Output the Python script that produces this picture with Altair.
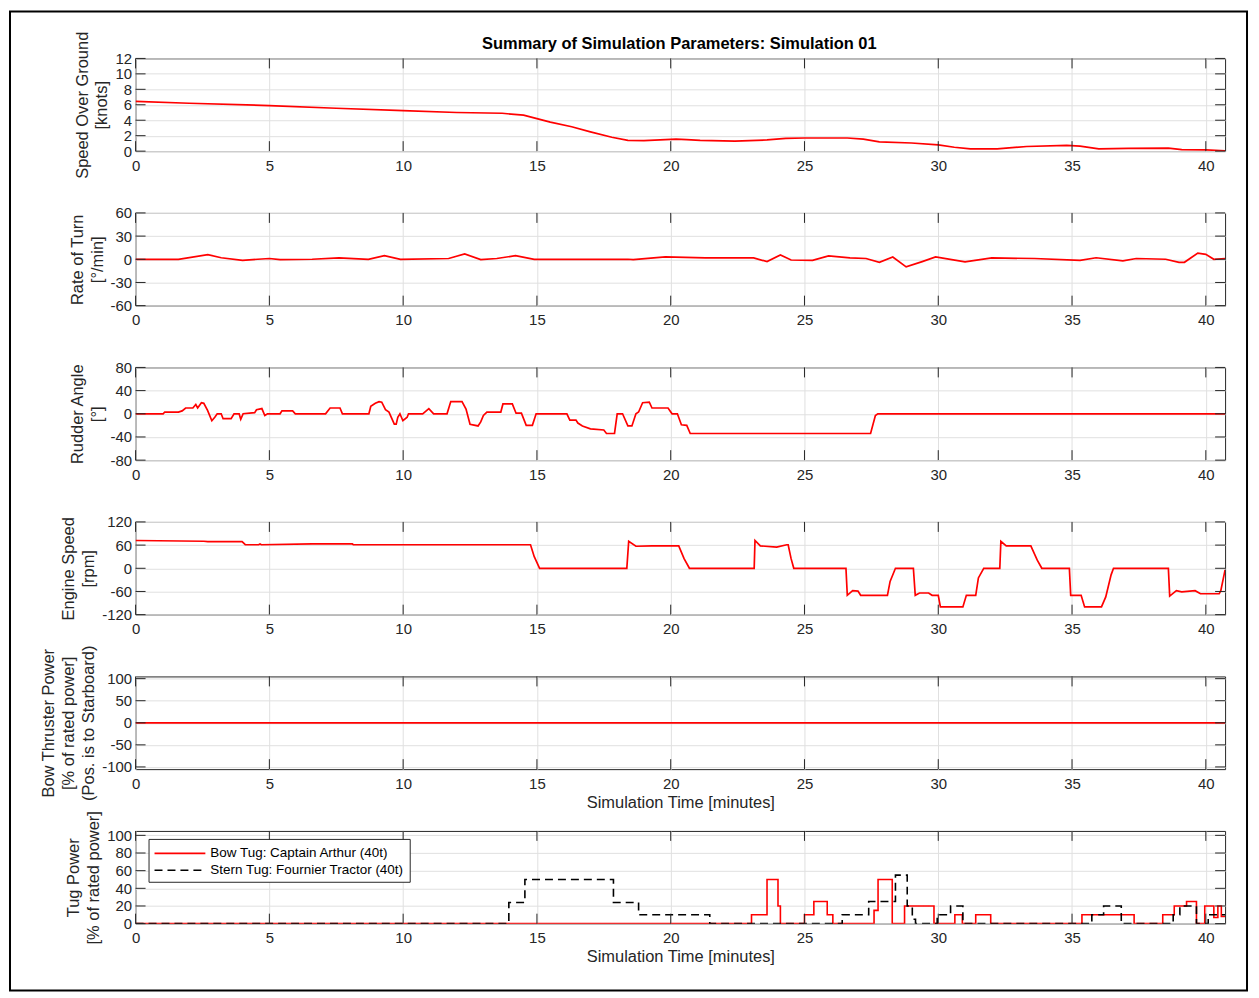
import altair as alt
import pandas as pd

# ---------------- data ----------------
X_MAX = 40.72
XTICKS = [0, 5, 10, 15, 20, 25, 30, 35, 40]

sog_t = [0, 2, 5, 7.5, 10, 12, 13.7, 14.5, 15, 15.5, 16.3, 17, 17.8, 18.4, 19.0, 19.6, 20.2, 20.6,
         21.1, 22.4, 23.6, 24.3, 25, 26.6, 27.2, 27.8, 29.0, 30, 30.6, 31.2, 32.2, 33.3, 34.8, 35.3,
         36.0, 37.1, 38.6, 39.1, 40.0, 40.72]
sog_v = [6.45, 6.2, 5.9, 5.55, 5.25, 5.0, 4.9, 4.65, 4.2, 3.75, 3.15, 2.5, 1.8, 1.4, 1.35, 1.45, 1.55, 1.5,
         1.4, 1.3, 1.45, 1.65, 1.7, 1.7, 1.55, 1.2, 1.05, 0.8, 0.5, 0.3, 0.3, 0.6, 0.75, 0.65,
         0.3, 0.35, 0.4, 0.2, 0.15, 0.05]

rot_t = [0, 1.6, 2.7, 3.2, 4.0, 5.0, 5.4, 6.6, 7.6, 8.7, 9.3, 9.9, 11.7, 12.3, 12.9, 13.5, 14.2, 14.9,
         18.4, 18.6, 19.8, 21.3, 23.1, 23.6, 24.1, 24.5, 25.3, 25.9, 26.7, 27.3, 27.8, 28.3, 28.8,
         29.4, 29.9, 31.0, 32.0, 33.6, 35.3, 35.9, 36.9, 37.4, 38.5, 39.0, 39.2, 39.7, 40.0, 40.3, 40.72]
rot_v = [0, 0, 6, 2, -1.3, 1, -0.5, 0, 1.7, 0, 4.7, 0, 1, 6.9, -0.4, 1, 4.7, 0,
         0, -0.5, 3, 1.7, 1.7, -3, 5.6, -0.9, -1.3, 4.3, 1.7, 1, -3.9, 3, -9.9,
         -3, 3, -3.4, 1.7, 1, -1.3, 2, -2, 1, 0, -3.9, -3.9, 8, 6.4, 0, 1]

rud_t = [0, 1.03, 1.09, 1.6, 1.74, 1.87, 2.14, 2.25, 2.32, 2.46, 2.55, 2.69, 2.85, 2.96, 3.05, 3.2, 3.27,
         3.57, 3.68, 3.87, 3.93, 4.02, 4.45, 4.52, 4.72, 4.83, 4.93, 5.4, 5.47, 5.87, 5.97, 7.1, 7.27,
         7.64, 7.73, 8.72, 8.79, 8.96, 9.1, 9.2, 9.34, 9.47, 9.67, 9.74, 9.8, 9.88, 9.99, 10.15, 10.2,
         10.73, 10.96, 11.14, 11.64, 11.78, 12.2, 12.35, 12.5, 12.8, 12.9, 13.0, 13.13, 13.65, 13.73,
         14.08, 14.22, 14.42, 14.6, 14.83, 14.97, 16.12, 16.23, 16.46, 16.53, 16.7, 17.0, 17.5, 17.6,
         17.9, 18.0, 18.2, 18.4, 18.55, 18.7, 18.8, 18.95, 19.2, 19.3, 19.9, 20.05, 20.25, 20.4, 20.6,
         20.73, 27.47, 27.65, 27.74, 40.72]
rud_v = [0, 0, 3, 3, 5, 10, 10, 16, 10, 19, 18, 6, -12, -6, 0, 0, -8.5,
         -8.5, 0, 0, -9.6, 0, 2, 7, 9, -3, 0, 0, 5, 5, 0, 0, 10,
         10, 0, 0, 13, 18, 21, 20, 7, 3, -18, -18, -6, 0, -12, -6, 0,
         0, 9, 0, 0, 21, 21, 8, -18, -21, -14, -3, 3, 3, 17,
         17, 1, 1, -20, -20, 0, 0, -11, -11, -16, -21, -26, -28, -34,
         -34, 0, 0, -21, -21, 0, 3, 19, 20, 10, 10, 0, 0, -19, -20,
         -34, -34, -3, 0, 0]

eng_t = [0, 2.55, 2.7, 3.98, 4.1, 4.6, 4.65, 4.7, 6.6, 8.1, 8.14, 14.76, 14.9, 15.1, 18.36, 18.43, 18.7,
         19.3, 20.3, 20.5, 20.7, 23.12, 23.15, 23.35, 23.96, 24.34, 24.39, 24.5, 24.6, 26.55, 26.6, 26.8,
         27.0, 27.1, 28.1, 28.2, 28.4, 29.07, 29.14, 29.3, 29.64, 29.77, 30.0, 30.08, 30.92, 31.05, 31.4,
         31.5, 31.7, 32.3, 32.34, 32.54, 33.46, 33.7, 33.87, 34.9, 34.95, 35.34, 35.47, 36.1, 36.26,
         36.46, 36.55, 38.6, 38.65, 38.9, 39.1, 39.6, 39.8, 40.5, 40.56, 40.72]
eng_v = [72, 70, 69, 69, 61, 61, 63, 61, 63, 63, 61, 61, 30, 0, 0, 70, 57,
         58, 58, 25, 0, 0, 72, 58, 55, 61, 61, 25, 0, 0, -70, -58,
         -59, -70, -70, -34, 0, 0, -70, -64, -64, -70, -70, -100, -100, -70, -70,
         -25, 0, 0, 70, 58, 58, 21, 0, 0, -70, -70, -100, -100, -74,
         -17, 0, 0, -72, -58, -61, -58, -66, -66, -58, -4]

bow_thr_t = [0, 40.72]
bow_thr_v = [0, 0]

TUG_NAMES = ["Bow Tug: Captain Arthur (40t)", "Stern Tug: Fournier Tractor (40t)"]
bowtug_t = [0, 23.02, 23.6, 24.01, 24.1, 25.0, 25.35, 25.85, 26.06, 27.6, 27.75, 28.28, 28.74, 29.84,
            30.62, 30.9, 31.4, 31.96, 35.37, 37.32, 38.39, 38.82, 39.28, 39.65, 39.96, 40.3, 40.45,
            40.58, 40.72]
bowtug_v = [0, 10, 50, 20, 0, 10, 25, 10, 0, 15, 50, 0, 20, 0,
            10, 0, 10, 0, 10, 0, 10, 20, 25, 0, 20, 7, 20,
            8, 8]
sterntug_t = [0, 13.95, 14.55, 17.86, 18.8, 21.46, 26.41, 27.4, 28.4, 28.84, 29.03, 29.15, 29.96,
              30.46, 30.92, 35.74, 36.18, 36.84, 38.78, 39.03, 39.65, 40.09, 40.72]
sterntug_v = [0, 24, 50, 24, 10, 0, 10, 25, 55, 20, 5, 0, 10,
              20, 0, 10, 20, 0, 10, 20, 0, 10, 10]

# ---------------- styling ----------------
W, H = 1093, 93
SPACING = 62
TL = 10
FONT = "Liberation Sans"
AX = "#262626"
GRID = "#e0e0e0"
RED = "#ff0000"
LABEL_EXPR = "replace(datum.label, '\u2212', '-')"


def make_axes(yticks, ytitle, xtitle):
    xa = alt.Axis(values=XTICKS, format="d", title=xtitle, titlePadding=3,
                  labelPadding=7, grid=True, labelFlush=False)
    ya = alt.Axis(values=yticks, format="d", title=ytitle, titlePadding=5,
                  labelPadding=4, grid=True, labelFlush=False, labelExpr=LABEL_EXPR)
    return xa, ya


def tick_layers(xs, ys, xa, ya, yticks):
    xdf = pd.DataFrame({"t": XTICKS})
    ydf = pd.DataFrame({"v": yticks})
    xt = alt.Chart(xdf).mark_rule(color=AX, strokeWidth=1).encode(
        x=alt.X("t:Q", scale=xs, axis=xa), y=alt.value(0), y2=alt.value(TL))
    xb = alt.Chart(xdf).mark_rule(color=AX, strokeWidth=1).encode(
        x=alt.X("t:Q", scale=xs, axis=xa), y=alt.value(H - TL), y2=alt.value(H))
    yl = alt.Chart(ydf).mark_rule(color=AX, strokeWidth=1).encode(
        y=alt.Y("v:Q", scale=ys, axis=ya), x=alt.value(0), x2=alt.value(TL))
    yr = alt.Chart(ydf).mark_rule(color=AX, strokeWidth=1).encode(
        y=alt.Y("v:Q", scale=ys, axis=ya), x=alt.value(W - TL), x2=alt.value(W))
    return [xt, xb, yl, yr]


def panel(t, v, ydom, yticks, ytitle, xtitle=None):
    xs = alt.Scale(domain=[0, X_MAX], nice=False, zero=False)
    ys = alt.Scale(domain=ydom, nice=False, zero=False)
    xa, ya = make_axes(yticks, ytitle, xtitle)
    df = pd.DataFrame({"t": t, "v": v})
    line = alt.Chart(df).mark_line(color=RED, strokeWidth=1.7, clip=True).encode(
        x=alt.X("t:Q", scale=xs, axis=xa),
        y=alt.Y("v:Q", scale=ys, axis=ya),
    )
    return alt.layer(line, *tick_layers(xs, ys, xa, ya, yticks))


p1 = panel(sog_t, sog_v, [0, 12], [0, 2, 4, 6, 8, 10, 12], ["Speed Over Ground", "[knots]"])
p2 = panel(rot_t, rot_v, [-60, 60], [-60, -30, 0, 30, 60], ["Rate of Turn", "[°/min]"])
p3 = panel(rud_t, rud_v, [-80, 80], [-80, -40, 0, 40, 80], ["Rudder Angle", "[°]"])
p4 = panel(eng_t, eng_v, [-120, 120], [-120, -60, 0, 60, 120], ["Engine Speed", "[rpm]"])
p5 = panel(bow_thr_t, bow_thr_v, [-105, 105], [-100, -50, 0, 50, 100],
           ["Bow Thruster Power", "[% of rated power]", "(Pos. is to Starboard)"],
           xtitle="Simulation Time [minutes]")

# tug panel
tug_df = pd.concat([
    pd.DataFrame({"t": bowtug_t, "v": bowtug_v, "s": TUG_NAMES[0]}),
    pd.DataFrame({"t": sterntug_t, "v": sterntug_v, "s": TUG_NAMES[1]}),
])
xs6 = alt.Scale(domain=[0, X_MAX], nice=False, zero=False)
ys6 = alt.Scale(domain=[0, 105], nice=False, zero=False)
tug_ticks = [0, 20, 40, 60, 80, 100]
xa6, ya6 = make_axes(tug_ticks, ["Tug Power", "[% of rated power]"], "Simulation Time [minutes]")
tug_legend = alt.Legend(title=None, orient="none", legendX=13, legendY=8,
                        fillColor="white", strokeColor=AX, padding=5,
                        labelFont=FONT, labelFontSize=13.5, labelColor="black",
                        symbolType="M-3,0H3", symbolSize=289, symbolStrokeWidth=1.6,
                        symbolOffset=17, labelOffset=21, rowPadding=1, labelLimit=400)
tug_line = alt.Chart(tug_df).mark_line(strokeWidth=1.6, interpolate="step-after", clip=True).encode(
    x=alt.X("t:Q", scale=xs6, axis=xa6),
    y=alt.Y("v:Q", scale=ys6, axis=ya6),
    color=alt.Color("s:N", scale=alt.Scale(domain=TUG_NAMES, range=[RED, "black"]), legend=tug_legend),
    strokeDash=alt.StrokeDash("s:N", scale=alt.Scale(domain=TUG_NAMES, range=[[1, 0], [8, 5]]),
                              legend=tug_legend),
)
# outer figure frame (decoration, pixel placement relative to the last panel)
frame = alt.Chart(pd.DataFrame({"f": [0]})).mark_rect(
    fillOpacity=0, stroke="black", strokeWidth=2
).encode(
    x=alt.value(-126), x2=alt.value(1115), y=alt.value(-822), y2=alt.value(160)
)
p6 = alt.layer(tug_line, *tick_layers(xs6, ys6, xa6, ya6, tug_ticks), frame)

chart = alt.vconcat(p1, p2, p3, p4, p5, p6, spacing=SPACING, bounds="flush").resolve_legend(
    color="independent", strokeDash="independent"
).properties(
    title=alt.Title("Summary of Simulation Parameters: Simulation 01", fontSize=16.5,
                    font=FONT, fontWeight="bold", color="black", anchor="middle",
                    offset=-43, dx=51),
    padding={"left": 0, "top": 0, "right": 2, "bottom": 0},
).configure_view(
    stroke=AX, strokeWidth=1, continuousWidth=W, continuousHeight=H,
).configure_axis(
    labelFont=FONT, labelFontSize=15, labelColor=AX,
    titleFont=FONT, titleFontSize=16.5, titleFontWeight="normal", titleColor=AX,
    titleLineHeight=20, domain=False, ticks=False, gridColor=GRID, gridWidth=1,
)

chart.save("out.html", embed_options={"renderer": "svg", "actions": False})
